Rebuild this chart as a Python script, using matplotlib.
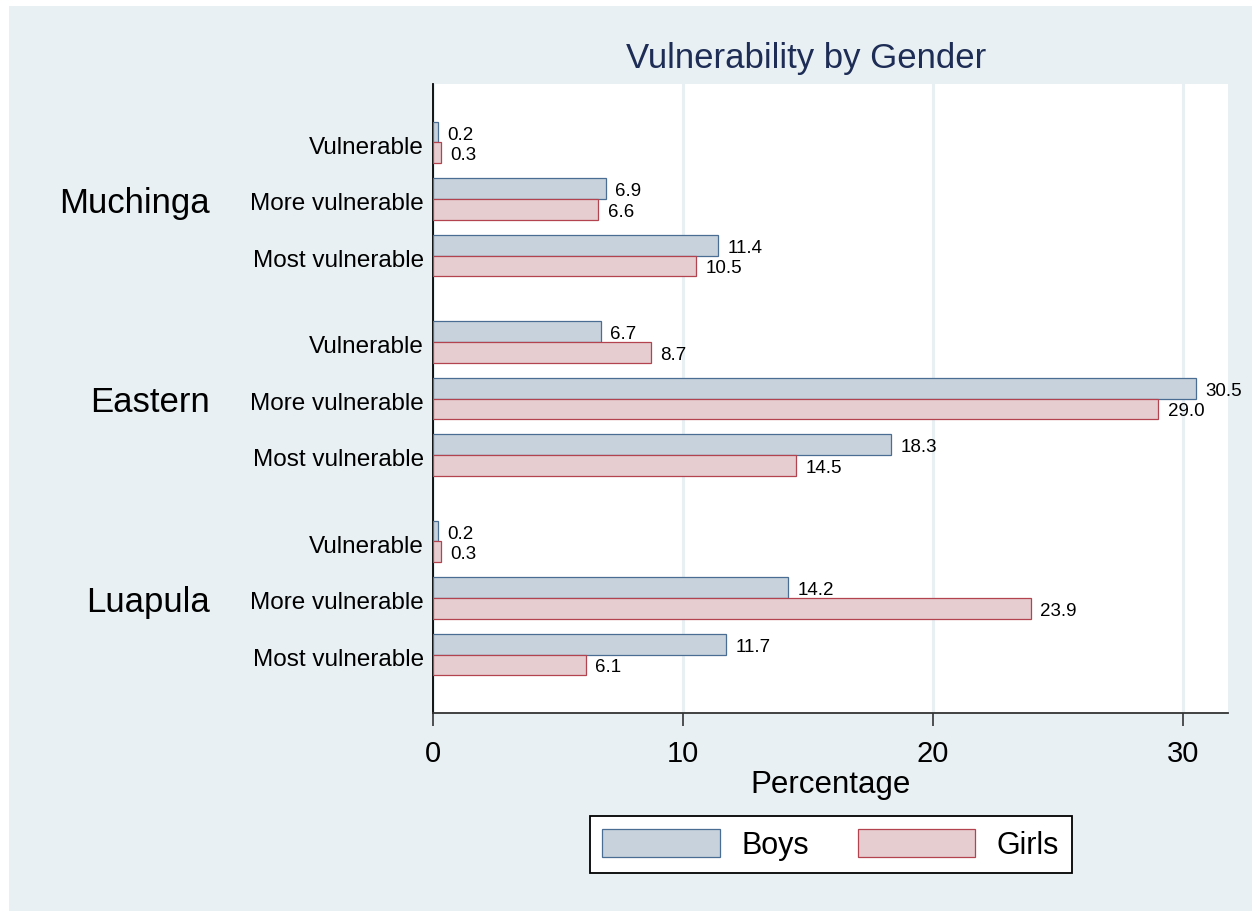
import matplotlib
matplotlib.use("Agg")
import matplotlib.pyplot as plt
from matplotlib.patches import Rectangle, Patch
from matplotlib.transforms import ScaledTranslation
import numpy as np

plt.rcParams['font.family'] = ['Liberation Sans', 'DejaVu Sans']

groups = ["Muchinga", "Eastern", "Luapula"]
categories = ["Vulnerable", "More vulnerable", "Most vulnerable"]
boys = [[0.2, 6.9, 11.4], [6.7, 30.5, 18.3], [0.2, 14.2, 11.7]]
girls = [[0.3, 6.6, 10.5], [8.7, 29.0, 14.5], [0.3, 23.9, 6.1]]
xticks = [0, 10, 20, 30]

boys_fill, boys_edge = "#c8d2dc", "#4a6d94"
girls_fill, girls_edge = "#e6cdd0", "#b2434f"
bg = "#e8f0f3"
title_col = "#1e2d55"

fig = plt.figure(figsize=(12.56, 9.12), dpi=100)
fig.patch.set_facecolor("white")
fig.patches.append(Rectangle((9/1256, 0), (1252-9)/1256, 1-7/912, transform=fig.transFigure,
                             facecolor=bg, edgecolor="none", zorder=-10))

ax = fig.add_axes([433/1256, 1-714/912, (1228-433)/1256, (714-85)/912])
ax.set_facecolor("white")

gstep = 3.53
h = 0.363
pos, labels = [], []
for g in range(len(groups)):
    for c in range(len(categories)):
        p = g*gstep + c
        pos.append(p)
        labels.append(categories[c])
        b = boys[g][c]
        gl = girls[g][c]
        ax.barh(p - h/2, b, height=h, color=boys_fill, edgecolor=boys_edge, linewidth=0.9, zorder=3)
        ax.barh(p + h/2, gl, height=h, color=girls_fill, edgecolor=girls_edge, linewidth=0.9, zorder=3)
        ax.annotate(f"{b:.1f}", (b, p - h/2), xytext=(7, -1.5), textcoords="offset points",
                    va="center", ha="left", fontsize=13.5, zorder=4)
        ax.annotate(f"{gl:.1f}", (gl, p + h/2), xytext=(7, -1.5), textcoords="offset points",
                    va="center", ha="left", fontsize=13.5, zorder=4)
    ax.annotate(groups[g], (-0.2805, g*gstep + 1), xycoords=ax.get_yaxis_transform(),
                xytext=(0, -2.2), textcoords="offset points",
                ha="right", va="center", fontsize=25)

ax.set_yticks(pos)
ax.set_yticklabels(labels, fontsize=17.5)
ax.tick_params(axis="y", length=0, pad=6.5)
for lab in ax.get_yticklabels():
    lab.set_transform(lab.get_transform() + ScaledTranslation(0, -1.2/72, fig.dpi_scale_trans))
ax.set_ylim(2*gstep + 2 + 1.035, -1.035)

ax.set_xlim(0, 31.8)
ax.set_xticks(xticks)
ax.set_xticklabels([str(t) for t in xticks], fontsize=21)
ax.tick_params(axis="x", length=9, width=1.2, pad=9.5, color="#333333")
ax.grid(axis="x", color=bg, linewidth=2.2, zorder=0)
ax.set_axisbelow(True)
ax.set_xlabel("Percentage", fontsize=22.5, labelpad=1.5)

for s in ["top", "right"]:
    ax.spines[s].set_visible(False)
ax.spines["left"].set_color("black")
ax.spines["left"].set_linewidth(1.3)
ax.spines["bottom"].set_color("#333333")
ax.spines["bottom"].set_linewidth(1.3)

fig.text(806/1256, 1-58.5/912, "Vulnerability by Gender", ha="center", va="center",
         fontsize=25, color=title_col)

handles = [Patch(facecolor=boys_fill, edgecolor=boys_edge, linewidth=0.9, label="Boys"),
           Patch(facecolor=girls_fill, edgecolor=girls_edge, linewidth=0.9, label="Girls")]
leg = fig.legend(handles=handles, loc="center", bbox_to_anchor=(830.5/1256, 1-845.5/912), ncol=2,
                 fontsize=22, frameon=True, fancybox=False, shadow=False,
                 handlelength=3.85, handleheight=1.05, handletextpad=0.69,
                 columnspacing=1.6, borderpad=0.42, borderaxespad=0)
leg.get_frame().set_edgecolor("black")
leg.get_frame().set_linewidth(1.3)
leg.get_frame().set_facecolor("white")
leg.get_frame().set_alpha(1)

fig.savefig("out.png", dpi=100, facecolor=fig.get_facecolor())
